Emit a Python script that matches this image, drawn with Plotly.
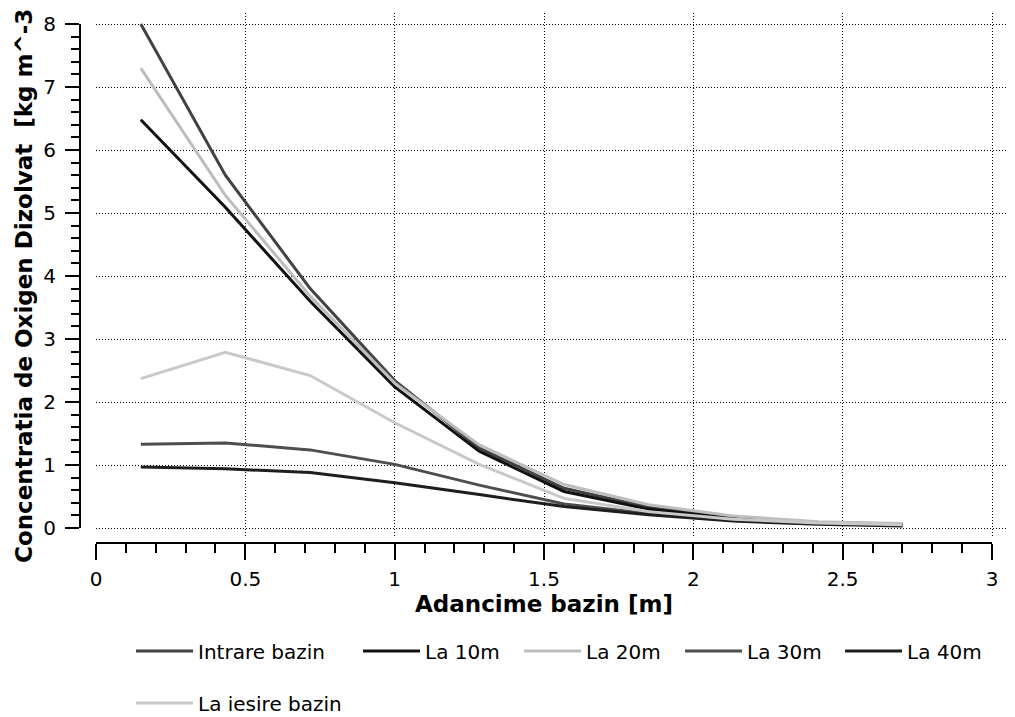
import plotly.graph_objects as go

# The page body adds an 8px margin, so the figure is sized to fill the rest of the window
OFF = 8
W, H = 1015 - OFF, 717 - OFF

# ---- data ----
depth = [0.15, 0.433, 0.717, 1.0, 1.283, 1.567, 1.85, 2.133, 2.417, 2.7]
intrare_bazin = [8.0, 5.6, 3.80, 2.34, 1.27, 0.63, 0.33, 0.17, 0.09, 0.06]
la_10m = [6.48, 5.09, 3.60, 2.24, 1.22, 0.58, 0.30, 0.15, 0.08, 0.05]
la_20m = [7.3, 5.28, 3.68, 2.30, 1.32, 0.69, 0.37, 0.19, 0.10, 0.07]
la_30m = [1.33, 1.35, 1.24, 1.01, 0.68, 0.38, 0.23, 0.12, 0.07, 0.04]
la_40m = [0.97, 0.94, 0.88, 0.72, 0.53, 0.34, 0.21, 0.11, 0.06, 0.03]
la_iesire_bazin = [2.37, 2.79, 2.42, 1.67, 1.01, 0.47, 0.26, 0.14, 0.08, 0.05]

series_names = ["Intrare bazin", "La 10m", "La 20m", "La 30m", "La 40m", "La iesire bazin"]
series_values = [intrare_bazin, la_10m, la_20m, la_30m, la_40m, la_iesire_bazin]
series_colors = ["#424242", "#111111", "#bdbdbd", "#4e4e4e", "#1e1e1e", "#c9c9c9"]

x_title = "Adancime bazin [m]"
y_title = "Concentratia de Oxigen Dizolvat  [kg m^-3]"

FONT = "DejaVu Sans"

# pixel helpers (window pixels -> paper fraction)
def px_x(p):
    return (p - OFF) / W

def px_y(p):
    return 1 - (p - OFF) / H

# legend placement (window pixels): (left, center y)
legend_pos = [(131, 651), (358, 651), (519, 651), (680, 651), (840, 651), (131, 703)]

fig = go.Figure()
legend_ids = ["legend", "legend2", "legend3", "legend4", "legend5", "legend6"]
for name, vals, col, lid in zip(series_names, series_values, series_colors, legend_ids):
    fig.add_trace(go.Scatter(
        x=depth, y=vals, mode="lines", name=name,
        line=dict(color=col, width=3),
        legend=lid, xaxis="x", yaxis="y",
    ))

# dummy trace to realise the offset axes
fig.add_trace(go.Scatter(x=[None], y=[None], xaxis="x2", yaxis="y2",
                         showlegend=False, hoverinfo="skip"))

layout = dict(
    template="none",
    width=W, height=H,
    margin=dict(l=0, r=0, t=0, b=0, autoexpand=False),
    paper_bgcolor="white", plot_bgcolor="rgba(0,0,0,0)",
    font=dict(family=FONT, color="black"),
    showlegend=True,
    xaxis=dict(
        domain=[px_x(96), 1.0], range=[0, (1015 - 96) / 298.7],
        showgrid=True, gridcolor="#000000", gridwidth=1, griddash="1px,2px",
        dtick=0.5, tick0=0, showticklabels=False, ticks="", showline=False,
        zeroline=False, anchor="y", automargin=False,
    ),
    yaxis=dict(
        domain=[px_y(537), px_y(13)], range=[-9 / 63, (528 - 13) / 63],
        showgrid=True, gridcolor="#000000", gridwidth=1, griddash="1px,2px",
        dtick=1, tick0=0, showticklabels=False, ticks="", showline=False,
        zeroline=False, anchor="x", automargin=False,
    ),
    xaxis2=dict(
        domain=[px_x(96), px_x(992)], range=[0, 3], anchor="free",
        position=px_y(543), showgrid=False, zeroline=False, automargin=False,
        showline=True, linecolor="black", linewidth=2,
        ticks="outside", ticklen=16, tickwidth=2, tickcolor="black",
        dtick=0.5, tick0=0,
        tickfont=dict(family=FONT, size=20, color="black"),
        ticklabelstandoff=2,
        minor=dict(dtick=0.1, ticks="outside", ticklen=9, tickwidth=2, tickcolor="black", showgrid=False),
        title=dict(text="<b>" + x_title + "</b>", font=dict(family=FONT, size=23, color="black"), standoff=3),
    ),
    yaxis2=dict(
        domain=[px_y(528), px_y(24)], range=[0, 8], anchor="free",
        position=px_x(80), showgrid=False, zeroline=False, automargin=False,
        showline=True, linecolor="black", linewidth=2,
        ticks="outside", ticklen=14, tickwidth=2, tickcolor="black",
        dtick=1, tick0=0,
        tickfont=dict(family=FONT, size=20, color="black"),
        ticklabelstandoff=5,
        minor=dict(dtick=0.2, ticks="outside", ticklen=8, tickwidth=2, tickcolor="black", showgrid=False),
    ),
    annotations=[dict(
        text="<b>" + y_title + "</b>", textangle=-90,
        xref="paper", yref="paper", x=px_x(24), y=px_y(281),
        xanchor="center", yanchor="middle", showarrow=False,
        font=dict(family=FONT, size=23, color="black"),
    )],
)

for lid, (lx, ly) in zip(legend_ids, legend_pos):
    layout[lid] = dict(
        x=px_x(lx), y=px_y(ly), xanchor="left", yanchor="middle",
        orientation="h", bgcolor="rgba(0,0,0,0)", borderwidth=0,
        font=dict(family=FONT, size=20, color="black"), itemwidth=57,
    )

fig.update_layout(**layout)
fig.write_html("out.html")
